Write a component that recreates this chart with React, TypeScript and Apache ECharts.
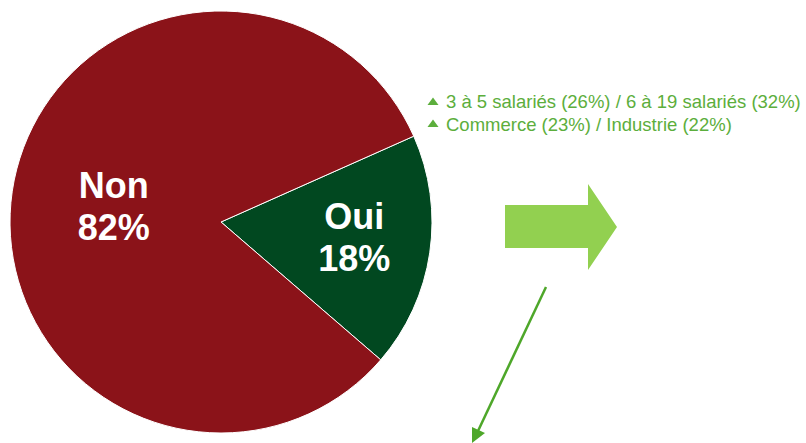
import React, { useEffect, useRef } from "react";
import * as echarts from "echarts";

const categories = ["Oui", "Non"];
const values = [18, 82];
const sliceColors = ["#014820", "#8b1319"];
const noteLines = [
  "3 à 5 salariés (26%) / 6 à 19 salariés (32%)",
  "Commerce (23%) / Industrie (22%)",
];

export default function App() {
  const ref = useRef<HTMLDivElement>(null);
  useEffect(() => {
    if (!ref.current) return;
    const chart = echarts.init(ref.current, undefined, { renderer: "svg" });
    const green = "#5cae3c";
    const font = "'Liberation Sans', Arial, sans-serif";
    const data = categories.map((name, i) => ({
      name,
      value: values[i],
      itemStyle: { color: sliceColors[i] },
      label: i === 0 ? { padding: [7, 0, 0, 52] } : { padding: [0, 0, 0, 0] },
    }));
    chart.setOption({
      animation: false,
      backgroundColor: "#ffffff",
      series: [
        {
          type: "pie",
          center: [221, 222],
          radius: [0, 211],
          startAngle: 24,
          clockwise: true,
          avoidLabelOverlap: false,
          itemStyle: { borderColor: "#ffffff", borderWidth: 1 },
          label: {
            show: true,
            position: "inside",
            formatter: "{b}\n{c}%",
            color: "#ffffff",
            fontFamily: font,
            fontWeight: "bold",
            fontSize: 36,
            lineHeight: 42,
            align: "center",
          },
          labelLine: { show: false },
          emphasis: { disabled: true },
          data,
        },
      ],
      graphic: [
        {
          type: "polygon",
          shape: {
            points: [
              [505, 205],
              [588, 205],
              [588, 184],
              [617, 227],
              [588, 270],
              [588, 248],
              [505, 248],
            ],
          },
          style: { fill: "#92d050" },
        },
        {
          type: "line",
          shape: { x1: 546, y1: 287, x2: 478, y2: 431 },
          style: { stroke: "#4ea72a", lineWidth: 2.5 },
        },
        {
          type: "polygon",
          shape: {
            points: [
              [472, 443],
              [485, 433],
              [472, 427],
            ],
          },
          style: { fill: "#4ea72a" },
        },
        {
          type: "polygon",
          shape: { points: [[427.5, 105], [433, 97.5], [438.5, 105]] },
          style: { fill: green },
        },
        {
          type: "polygon",
          shape: { points: [[427.5, 127], [433, 119.5], [438.5, 127]] },
          style: { fill: green },
        },
        {
          type: "text",
          x: 446,
          y: 101,
          style: {
            text: noteLines[0],
            fill: green,
            font: `18.5px ${font}`,
            verticalAlign: "middle",
          },
        },
        {
          type: "text",
          x: 446,
          y: 124,
          style: {
            text: noteLines[1],
            fill: green,
            font: `18.5px ${font}`,
            verticalAlign: "middle",
          },
        },
      ],
    });
    return () => chart.dispose();
  }, []);
  return (
    <div
      ref={ref}
      style={{ position: "fixed", left: 0, top: 0, width: 806, height: 443 }}
    />
  );
}
